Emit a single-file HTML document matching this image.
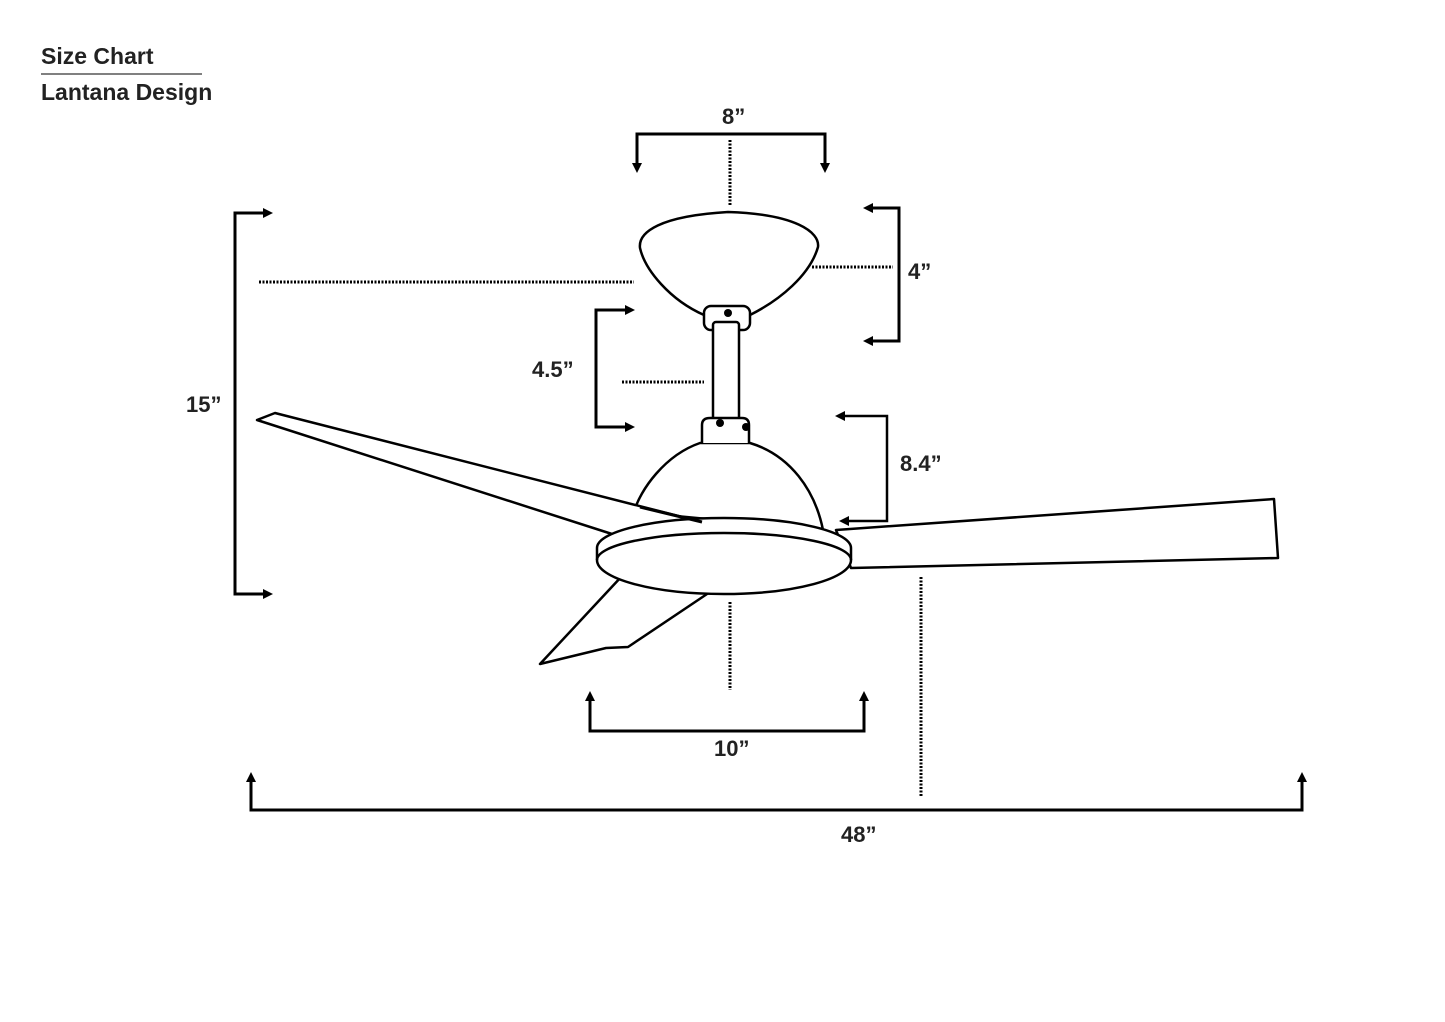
<!DOCTYPE html>
<html><head><meta charset="utf-8"><style>
html,body{margin:0;padding:0;background:#fff;}
svg{display:block;}
text{font-family:"Liberation Sans",Arial,sans-serif;font-weight:bold;fill:#222;}
</style></head><body>
<svg width="1445" height="1022" viewBox="0 0 1445 1022" xmlns="http://www.w3.org/2000/svg">
<defs>
<marker id="a" markerWidth="10" markerHeight="10" refX="7" refY="5" orient="auto-start-reverse" markerUnits="userSpaceOnUse">
<path d="M0,0 L10,5 L0,10 Z" fill="#000"/></marker>
</defs>
<text x="41" y="64" font-size="23">Size Chart</text>
<line x1="41" y1="74" x2="202" y2="74" stroke="#000" stroke-width="1"/>
<text x="41" y="100" font-size="23">Lantana Design</text>

<g fill="none" stroke="#000" stroke-width="3">
<path d="M637,170 V134 H825 V170" marker-start="url(#a)" marker-end="url(#a)"/>
<path d="M866,208 H899 V341 H866" marker-start="url(#a)" marker-end="url(#a)"/>
<path d="M270,213 H235 V594 H270" marker-start="url(#a)" marker-end="url(#a)"/>
<path d="M632,310 H596 V427 H632" marker-start="url(#a)" marker-end="url(#a)"/>
<path d="M838,416 H887 V521 H842" marker-start="url(#a)" marker-end="url(#a)" stroke-width="2.5"/>
<path d="M590,694 V731 H864 V694" marker-start="url(#a)" marker-end="url(#a)"/>
<path d="M251,775 V810 H1302 V775" marker-start="url(#a)" marker-end="url(#a)"/>
</g>
<g stroke="#000" stroke-width="3" stroke-dasharray="2,1.5" fill="none">
<line x1="730" y1="140" x2="730" y2="205"/>
<line x1="812" y1="267" x2="893" y2="267"/>
<line x1="259" y1="282" x2="634" y2="282"/>
<line x1="622" y1="382" x2="704" y2="382"/>
<line x1="730" y1="602" x2="730" y2="690"/>
<line x1="921" y1="577" x2="921" y2="797"/>
</g>
<g font-size="22">
<text x="722" y="124">8”</text>
<text x="908" y="279">4”</text>
<text x="186" y="412">15”</text>
<text x="532" y="377">4.5”</text>
<text x="900" y="471">8.4”</text>
<text x="714" y="756">10”</text>
<text x="841" y="842">48”</text>
</g>

<g fill="#fff" stroke="#000" stroke-width="2.5" stroke-linejoin="round">
<!-- right blade -->
<path d="M836,530 L1274,499 L1278,558 L851,568 Z"/>
<!-- lower blade -->
<path d="M622,576 L540,664 L606,648 L628,647 L710,592 Z"/>
<!-- canopy -->
<path d="M704,315 C670,300 645,270 640,248 C638,232 660,216 728,212 C795,214 820,232 818,247 C810,275 780,300 750,315 Z"/>
<rect x="704" y="306" width="46" height="24" rx="7"/>
<rect x="713" y="322" width="26" height="98" rx="3"/>
<!-- motor housing -->
<path d="M700,443 C665,455 640,490 634,512 L823,530 C815,490 790,455 750,443 Z"/>
<path d="M702,443 V425 Q702,418 710,418 H742 Q749,418 749,425 V443"/>
<!-- left blade -->
<path d="M612,534 L257,420 L275,413 L702,522 Z"/>
<!-- disc -->
<path d="M597,548 A127,30 0 0 1 851,548 V560 A127,34 0 0 1 597,560 Z"/>
<path d="M597,560 A127,27 0 0 1 851,560" fill="none"/>
</g>
<path d="M640,507 L702,522" stroke="#000" stroke-width="3" fill="none"/>
<g fill="#000">
<circle cx="728" cy="313" r="4"/>
<circle cx="720" cy="423" r="4"/>
<circle cx="746" cy="427" r="4"/>
</g>
</svg>
</body></html>
